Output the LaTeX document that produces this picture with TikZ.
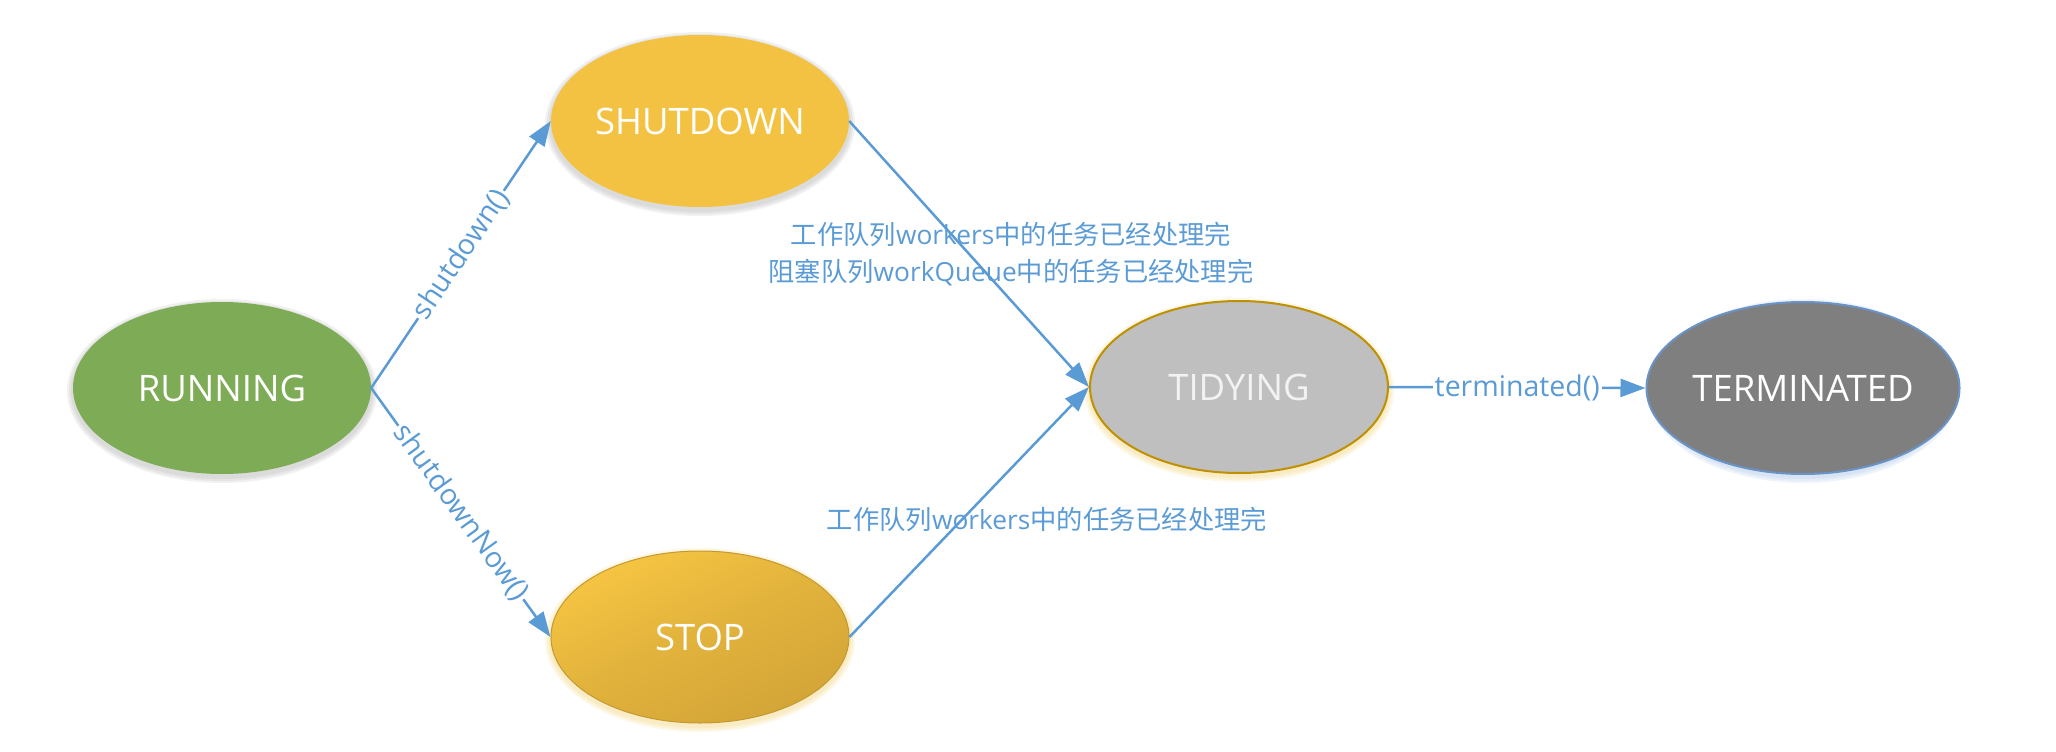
\documentclass[tikz,border=0pt]{standalone}
\usepackage{fontspec}
\setmainfont{Open Sans}
\newfontfamily\cjk{Noto Sans CJK SC}
\usetikzlibrary{arrows.meta,shapes.geometric}
\definecolor{lineblue}{HTML}{5B9BD5}
\definecolor{runfill}{HTML}{7EAB55}
\definecolor{shutfill}{HTML}{F4C242}
\definecolor{stoptop}{HTML}{F6C543}
\definecolor{stopbot}{HTML}{D3A537}
\definecolor{stopline}{HTML}{C49A30}
\definecolor{tidyfill}{HTML}{BFBFBF}
\definecolor{tidyline}{HTML}{BF9000}
\definecolor{termfill}{HTML}{7F7F7F}
\definecolor{termline}{HTML}{6A93C8}
\definecolor{glowgrey}{HTML}{B0B0B0}
\definecolor{glowgold}{HTML}{F2D37A}
\definecolor{glowblue}{HTML}{A9C4E6}
\begin{document}
\begin{tikzpicture}[x=1pt,y=-1pt,
  state/.style={ellipse, minimum width=298pt, minimum height=172pt, inner sep=0pt,
    text=white, font=\fontsize{36.5}{44}\selectfont},
  conn/.style={draw=lineblue, line width=2.5pt, -{Triangle[length=25pt,width=18pt]}},
  elabel/.style={fill=white, text=lineblue, inner sep=2pt, sloped,
    font=\fontsize{28.5}{34}\selectfont},
  hlabel/.style={fill=white, text=lineblue, inner sep=2pt,
    font=\fontsize{28.5}{34}\selectfont},
  note/.style={text=lineblue, align=center, inner sep=0pt,
    font=\fontsize{26.3}{37}\selectfont},
  glow/.style={fill=#1, opacity=0.18}]
\useasboundingbox (0,0) rectangle (2056,752);
% soft glows behind the states
\foreach \cx/\cy/\gc in {222/388/glowgrey, 700/121/glowgrey, 700/637/glowgold, 1239/387/glowgold, 1803/388/glowblue}{
  \foreach \k in {2,4,6}{
    \fill[glow=\gc] (\cx,\cy+3) ellipse [x radius=149+\k, y radius=86+\k];
  }
}
% states
\node[state, fill=runfill] (run) at (222,388) {RUNNING};
\node[state, fill=shutfill] (shut) at (700,121) {SHUTDOWN};
\node[state, draw=stopline, line width=1pt, top color=stoptop, bottom color=stopbot,
      middle color=stopbot!60!stoptop, shading angle=25] (stop) at (700,637) {STOP};
\node[state, fill=tidyfill, draw=tidyline, line width=2pt, text=white!95!black] (tidy) at (1239,387) {TIDYING};
\node[state, fill=termfill, draw=termline, line width=2pt] (term) at (1803,388) {TERMINATED};
% notes
\node[note] (n1) at (1011,254) {{\cjk 工作队列}workers{\cjk 中的任务已经处理完}\\{\cjk 阻塞队列}workQueue{\cjk 中的任务已经处理完}};
\node[note] (n2) at (1047,519) {{\cjk 工作队列}workers{\cjk 中的任务已经处理完}};
% connectors
\draw[conn] (run.east) -- node[elabel] {shutdown()} (shut.west);
\draw[conn] (run.east) -- node[elabel] {shutdownNow()} (stop.west);
\draw[conn] (shut.east) -- (tidy.west);
\draw[conn] (stop.east) -- (tidy.west);
\draw[conn] (tidy.east) -- node[hlabel] {terminated()} (term.west);
\end{tikzpicture}
\end{document}
